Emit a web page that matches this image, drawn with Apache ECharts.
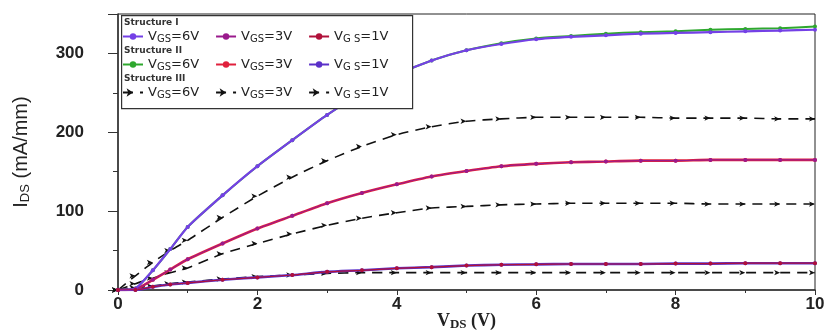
<!DOCTYPE html>
<html>
<head>
<meta charset="utf-8">
<script src="https://cdn.jsdelivr.net/npm/echarts@6/dist/echarts.min.js"></script>
<style>
  html, body { margin: 0; padding: 0; background: #fff; }
  #chart { width: 831px; height: 332px; }
</style>
</head>
<body>
<div id="chart"></div>
<script>
// drain voltage samples (V)
const vds = [0, 0.25, 0.5, 0.75, 1, 1.5, 2, 2.5, 3, 3.5, 4, 4.5, 5, 5.5, 6, 6.5, 7, 7.5, 8, 8.5, 9, 9.5, 10];

// drain current (mA/mm)
const s1Vgs6 = [0, 2, 25, 52, 80, 120, 157, 190, 222, 250, 273, 291, 304, 312, 318, 321, 323, 325, 326, 327, 328, 329, 330];
const s1Vgs3 = [0, 1, 13, 26, 39, 59, 78, 94, 110, 123, 134, 144, 151, 157, 160, 162, 163, 164, 164, 165, 165, 165, 165];
const s1Vgs1 = [0, 0, 4, 7, 9, 13, 16, 19, 23, 25, 27.5, 29, 31, 32, 32.5, 33, 33, 33, 33.5, 33.5, 34, 34, 34];
const s2Vgs6 = [0, 2, 25, 52, 80, 120, 157, 190, 222, 250, 273, 291, 304, 313, 319, 322, 325, 327, 328, 330, 331, 332, 334];
const s2Vgs3 = [0, 1, 13, 26, 39, 59, 78, 94, 110, 123, 134, 144, 151, 157, 160, 162, 163, 164, 164, 165, 165, 165, 165];
const s2Vgs1 = [0, 0, 4, 7, 9, 13, 16, 19, 23, 25, 27.5, 29, 31, 32, 32.5, 33, 33, 33, 33.5, 33.5, 34, 34, 34];
const s3Vgs6 = [0, 18, 35, 50, 63, 92, 119, 143, 164, 182, 197, 207, 214, 217, 219, 219, 219, 219, 218, 218, 218, 217, 217];
const s3Vgs3 = [0, 8, 15, 22, 28, 46, 59, 71, 82, 91, 98, 104, 106, 108, 109, 110, 110, 110, 110, 109, 109, 109, 109];
const s3Vgs1 = [0, 3, 5, 8, 10, 14, 17, 19, 21, 22, 22, 22, 22, 22, 22, 22, 22, 22, 22, 22, 22, 22, 22];

const xTicks = [0, 2, 4, 6, 8, 10];
const yTicks = [0, 100, 200, 300];
const structures = ['Structure I', 'Structure II', 'Structure III'];
const gateLabels = ['VGS=6V', 'VGS=3V', 'VGS=1V'];

const pair = ys => vds.map((v, i) => [v, ys[i]]);

function solid(name, ys, color, width, z) {
  return {
    name, type: 'line', data: pair(ys), z,
    smooth: 0.2,
    symbol: 'circle', symbolSize: 4,
    itemStyle: { color },
    lineStyle: { color, width }
  };
}
function dashed(name, ys) {
  return {
    name, type: 'line', data: pair(ys), z: 1,
    smooth: 0.2,
    symbol: 'arrow', symbolSize: [4, 6], symbolRotate: -90,
    itemStyle: { color: '#111' },
    lineStyle: { color: '#111', width: 1.6, type: [10, 7] }
  };
}

const names = structures.map(s => gateLabels.map(g => s + ' ' + g));

const series = [
  dashed(names[2][0], s3Vgs6),
  dashed(names[2][1], s3Vgs3),
  dashed(names[2][2], s3Vgs1),
  solid(names[1][0], s2Vgs6, '#2ea82e', 2, 2),
  solid(names[0][0], s1Vgs6, '#7440e6', 2.2, 3),
  solid(names[1][1], s2Vgs3, '#e0203c', 2.6, 2),
  solid(names[0][1], s1Vgs3, '#9a1a8c', 1.1, 3),
  solid(names[1][2], s2Vgs1, '#5a30c8', 2.6, 2),
  solid(names[0][2], s1Vgs1, '#b0103a', 1.2, 3)
];

const legendFont = 'DejaVu Sans, Liberation Sans, Arial, sans-serif';
const legendRows = [30, 58, 86];
const legends = names.map((row, i) => ({
  data: row,
  left: 122, top: legendRows[i], z: 20,
  orient: 'horizontal',
  itemWidth: 20, itemHeight: 8, itemGap: 16,
  padding: 0,
  selectedMode: false,
  formatter: n => '{a|V}{b|' + (n.indexOf('1V') > 0 ? 'G S' : 'GS') + '}{c|=' + n.split('=')[1] + '}',
  textStyle: {
    rich: {
      a: { fontSize: 13, fontFamily: legendFont, color: '#222' },
      b: { fontSize: 10, fontFamily: legendFont, color: '#222', padding: [5, 0, 0, 0] },
      c: { fontSize: 13, fontFamily: legendFont, color: '#222' }
    }
  }
}));

const chart = echarts.init(document.getElementById('chart'));
chart.setOption({
  animation: false,
  backgroundColor: '#fff',
  grid: {
    left: 118, right: 16, top: 14, bottom: 42,
    containLabel: false, outerBoundsMode: 'none',
    show: true, borderColor: '#222', borderWidth: 1
  },
  xAxis: {
    type: 'value', min: xTicks[0], max: xTicks[xTicks.length - 1], interval: 2,
    name: '{v|V}{s|DS}{v| (V)}', nameLocation: 'middle', nameGap: 22, nameMoveOverlap: false,
    nameTextStyle: {
      rich: {
        v: { fontFamily: 'Liberation Serif, Times New Roman, serif', fontWeight: 'bold', fontSize: 18, color: '#222' },
        s: { fontFamily: 'Liberation Serif, Times New Roman, serif', fontWeight: 'bold', fontSize: 13, color: '#222', padding: [6, 0, 0, 0] }
      }
    },
    axisLine: { lineStyle: { color: '#333', width: 1.5 } },
    axisTick: { length: 5, lineStyle: { color: '#333' } },
    minorTick: { show: true, splitNumber: 2, length: 3, lineStyle: { color: '#333' } },
    splitLine: { show: false },
    axisLabel: { margin: 6, fontSize: 17, fontWeight: 'bold', color: '#222', fontFamily: 'Liberation Sans, Arial, sans-serif' }
  },
  yAxis: {
    type: 'value', min: 0, max: 350, interval: 100,
    name: '{v|I}{s|DS}{v| (mA/mm)}', nameLocation: 'middle', nameGap: 86, nameRotate: 90, nameMoveOverlap: false,
    nameTextStyle: {
      rich: {
        v: { fontFamily: 'Liberation Sans Narrow, Liberation Sans, Arial, sans-serif', fontSize: 20, color: '#222' },
        s: { fontFamily: 'Liberation Sans Narrow, Liberation Sans, Arial, sans-serif', fontSize: 13, color: '#222', padding: [8, 0, 0, 0] }
      }
    },
    axisLine: { show: true, lineStyle: { color: '#333', width: 1.5 } },
    axisTick: { show: true, length: 10, lineStyle: { color: '#333' } },
    minorTick: { show: true, splitNumber: 2, length: 5, lineStyle: { color: '#333' } },
    splitLine: { show: false },
    axisLabel: {
      margin: 34, fontSize: 17, fontWeight: 'bold', color: '#222',
      fontFamily: 'Liberation Sans, Arial, sans-serif',
      showMaxLabel: false,
      formatter: v => (yTicks.indexOf(v) >= 0 ? String(v) : '')
    }
  },
  legend: legends,
  graphic: [
    { type: 'rect', left: 121, top: 15, z: 10, silent: true,
      shape: { width: 291, height: 93 },
      style: { fill: '#fff', stroke: '#333', lineWidth: 1.2 } },
    ...structures.map((s, i) => ({
      type: 'text', left: 124, top: [18, 46, 74][i], z: 21, silent: true,
      style: { text: s, fontSize: 9, fontWeight: 'bold', fill: '#333', fontFamily: legendFont }
    }))
  ],
  series
});
</script>
</body>
</html>
